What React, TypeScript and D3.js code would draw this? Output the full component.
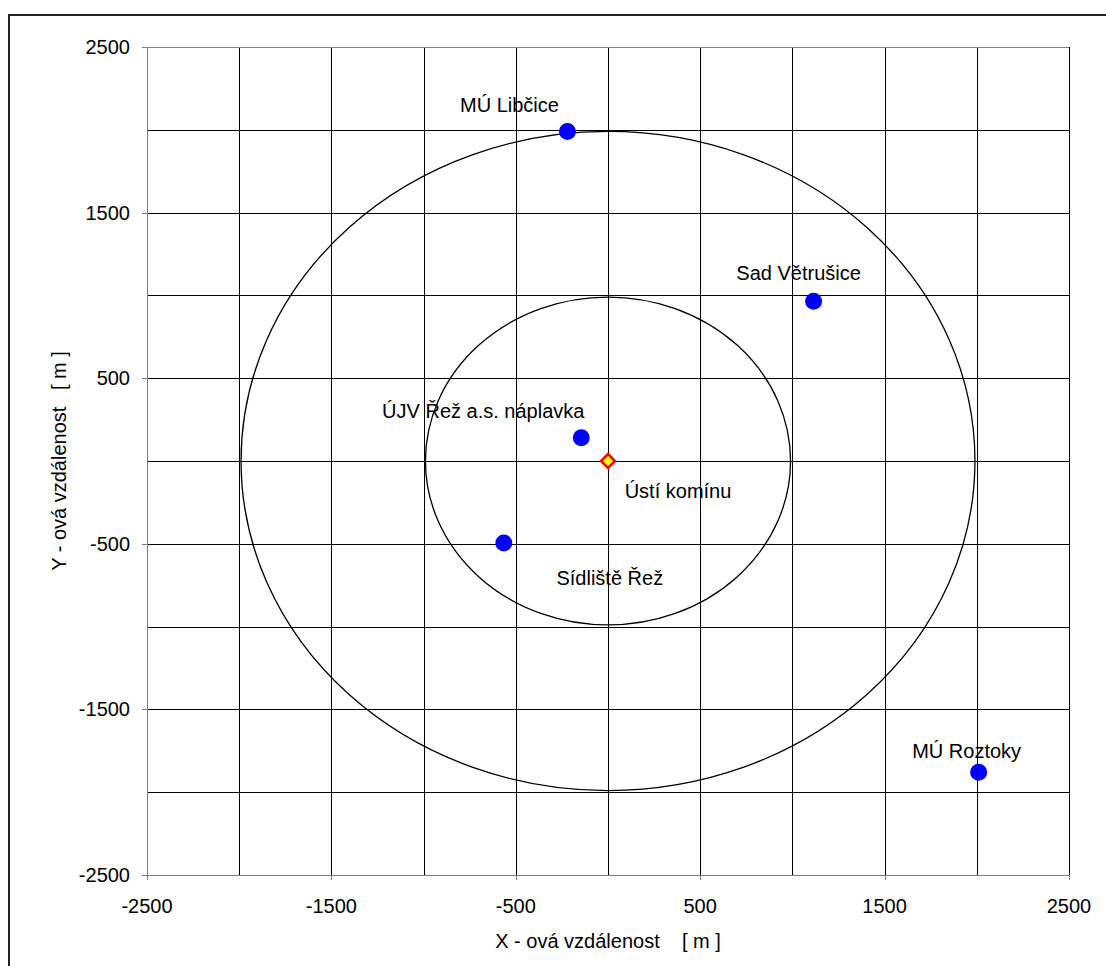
import React from 'react';
import * as d3 from 'd3';

// measuring points, in metres from the stack
const pointNames = ['MÚ Libčice', 'Sad Větrušice', 'ÚJV Řež a.s. náplavka', 'Sídliště Řež', 'MÚ Roztoky'];
const pointX = [-220, 1115, -145, -565, 2010];
const pointY = [1990, 965, 140, -495, -1880];

const stackName = 'Ústí komínu';
const stackX = 0;
const stackY = 0;

// distance rings
const ringRadii = [990, 1990];

const tickValues = [-2500, -1500, -500, 500, 1500, 2500];
const gridValues = [-2000, -1500, -1000, -500, 0, 500, 1000, 1500, 2000, 2500];

// label placement relative to marker (pixels): centre x offset, baseline y offset
const labelOffsets: Record<string, [number, number]> = {
  'MÚ Libčice': [-58, -19],
  'Sad Větrušice': [-15, -21],
  'ÚJV Řež a.s. náplavka': [-98, -20],
  'Sídliště Řež': [106, 42],
  'MÚ Roztoky': [-12, -14],
  'Ústí komínu': [70, 37],
};

const App = () => {
  const width = 1106;
  const height = 966;
  const plot = { left: 147, top: 47, right: 1069, bottom: 875 };
  const font = 'Arial, "Liberation Sans", sans-serif';

  const xScale = d3.scaleLinear().domain([-2500, 2500]).range([plot.left, plot.right]);
  const yScale = d3.scaleLinear().domain([-2500, 2500]).range([plot.bottom, plot.top]);

  const vGrid = gridValues.map((v) => (
    <line key={'v' + v} x1={Math.round(xScale(v)) + 0.5} x2={Math.round(xScale(v)) + 0.5}
      y1={plot.top} y2={plot.bottom} stroke="#000" strokeWidth={1} />
  ));
  const hGrid = gridValues.map((v) => (
    <line key={'h' + v} y1={Math.round(yScale(v)) + 0.5} y2={Math.round(yScale(v)) + 0.5}
      x1={plot.left} x2={plot.right} stroke={v === 2500 ? '#808080' : '#000'} strokeWidth={1} />
  ));

  const rings = ringRadii.map((r) => (
    <ellipse key={r} cx={xScale(0)} cy={yScale(0)}
      rx={xScale(r) - xScale(0)} ry={yScale(0) - yScale(r)}
      fill="none" stroke="#000" strokeWidth={1.3} />
  ));

  const yTicks = tickValues.map((v) => (
    <g key={'yt' + v}>
      <line x1={plot.left - 5} x2={plot.left} y1={Math.round(yScale(v)) + 0.5} y2={Math.round(yScale(v)) + 0.5} stroke="#808080" />
      <text x={plot.left - 17} y={yScale(v) + 7} textAnchor="end" fontSize={20} fontFamily={font}>{v}</text>
    </g>
  ));
  const xTicks = tickValues.map((v) => (
    <g key={'xt' + v}>
      <line y1={plot.bottom} y2={plot.bottom + 5} x1={Math.round(xScale(v)) + 0.5} x2={Math.round(xScale(v)) + 0.5} stroke="#808080" />
      <text x={xScale(v)} y={plot.bottom + 38} textAnchor="middle" fontSize={20} fontFamily={font}>{v}</text>
    </g>
  ));

  const dots = pointNames.map((name, i) => {
    const cx = xScale(pointX[i]);
    const cy = yScale(pointY[i]);
    const [dx, dy] = labelOffsets[name];
    return (
      <g key={name}>
        <circle cx={cx} cy={cy} r={8.5} fill="#0000ff" />
        <text x={cx + dx} y={cy + dy} textAnchor="middle" fontSize={20} fontFamily={font}>{name}</text>
      </g>
    );
  });

  const sx = xScale(stackX);
  const sy = yScale(stackY);
  const d = 7;
  const [sdx, sdy] = labelOffsets[stackName];

  return (
    <svg width={width} height={height} style={{ position: 'absolute', left: 0, top: 0, background: '#fff' }}>
      <rect x={0} y={0} width={width} height={height} fill="#fff" />
      <rect x={9} y={15} width={width + 20} height={height + 20} fill="none" stroke="#222" strokeWidth={2} />
      <g shapeRendering="crispEdges">
        {vGrid}
        {hGrid}
        <line x1={plot.left + 0.5} x2={plot.left + 0.5} y1={plot.top} y2={plot.bottom} stroke="#808080" />
        <line x1={plot.left} x2={plot.right} y1={plot.bottom + 0.5} y2={plot.bottom + 0.5} stroke="#808080" />
        {yTicks}
        {xTicks}
      </g>
      {rings}
      {dots}
      <polygon points={`${sx},${sy - d} ${sx + d},${sy} ${sx},${sy + d} ${sx - d},${sy}`}
        fill="#ffff00" stroke="#ff0000" strokeWidth={2.5} />
      <text x={sx + sdx} y={sy + sdy} textAnchor="middle" fontSize={20} fontFamily={font}>{stackName}</text>
      <text x={(plot.left + plot.right) / 2} y={948} textAnchor="middle" fontSize={20} fontFamily={font} xmlSpace="preserve">
        {'X - ová vzdálenost    [ m ]'}
      </text>
      <text transform={`translate(66, ${(plot.top + plot.bottom) / 2}) rotate(-90)`} textAnchor="middle"
        fontSize={20} fontFamily={font} xmlSpace="preserve">
        {'Y - ová vzdálenost   [ m ]'}
      </text>
    </svg>
  );
};

export default App;
